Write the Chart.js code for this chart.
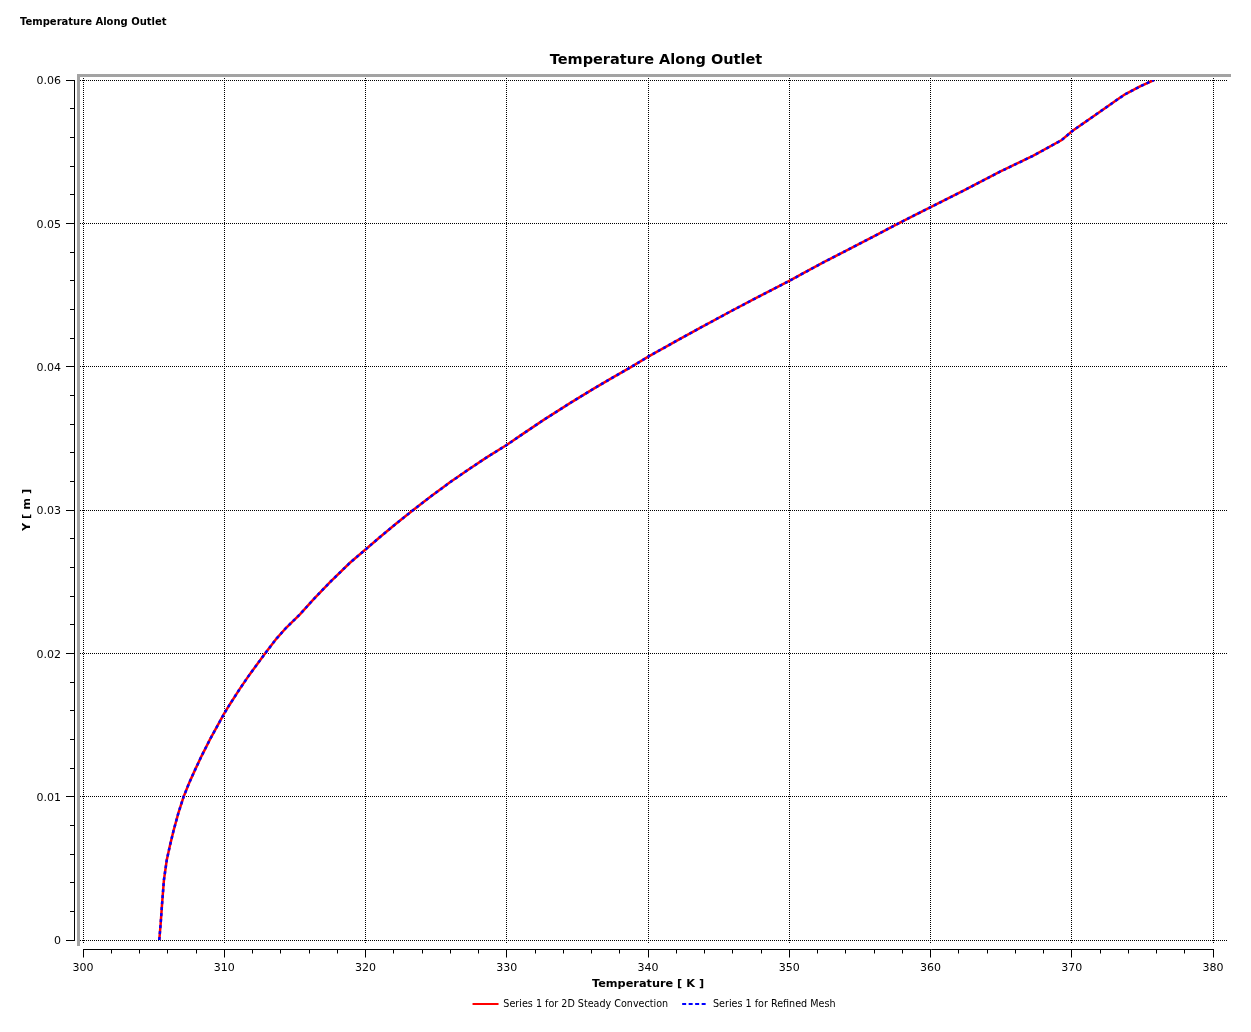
<!DOCTYPE html>
<html>
<head>
<meta charset="utf-8">
<script src="https://cdn.jsdelivr.net/npm/chart.js@4.4.0/dist/chart.umd.min.js"></script>
<style>
html,body{margin:0;padding:0;background:#fff;}
#wrap{position:relative;width:1251px;height:1032px;}
canvas{display:block;}
</style>
</head>
<body>
<div id="wrap"><canvas id="c" width="1251" height="1032"></canvas></div>
<script>
const pageTitle = 'Temperature Along Outlet';
const chartTitle = 'Temperature Along Outlet';
const xAxisTitle = 'Temperature [ K ]';
const yAxisTitle = 'Y [ m ]';
const seriesNames = ['Series 1 for 2D Steady Convection', 'Series 1 for Refined Mesh'];

const xTickValues = [300, 310, 320, 330, 340, 350, 360, 370, 380];
const yTickValues = [0, 0.01, 0.02, 0.03, 0.04, 0.05, 0.06];

// Series 1 for 2D Steady Convection
const temperature = [
  305.40, 305.50, 305.60, 305.73, 305.93, 306.16, 306.40, 306.75, 307.12, 307.50,
  307.90, 308.40, 308.99, 309.98, 310.40, 311.10, 311.80, 312.90, 313.70, 314.40,
  315.36, 316.30, 317.49, 318.90, 319.96, 321.03, 322.20, 323.38, 324.57, 325.98,
  327.40, 328.58, 329.99, 331.17, 332.59, 334.48, 336.13, 337.55, 338.73, 340.02,
  342.27, 343.92, 345.80, 347.46, 349.11, 350.00, 351.00, 352.41, 353.83, 355.95,
  357.60, 358.78, 360.08, 362.44, 363.15, 364.92, 367.28, 369.29, 370.04, 372.00,
  373.18, 373.77, 374.80, 375.82
];
const yPosition = [
  0.00000, 0.00116, 0.00256, 0.00419, 0.00558, 0.00661, 0.00759, 0.00885, 0.00999, 0.01092,
  0.01180, 0.01285, 0.01400, 0.01577, 0.01645, 0.01752, 0.01853, 0.02000, 0.02103, 0.02180,
  0.02272, 0.02375, 0.02497, 0.02632, 0.02721, 0.02812, 0.02907, 0.03000, 0.03091, 0.03193,
  0.03290, 0.03367, 0.03453, 0.03533, 0.03627, 0.03746, 0.03845, 0.03927, 0.03993, 0.04070,
  0.04194, 0.04283, 0.04383, 0.04469, 0.04553, 0.04598, 0.04652, 0.04727, 0.04799, 0.04907,
  0.04993, 0.05052, 0.05116, 0.05233, 0.05270, 0.05360, 0.05472, 0.05581, 0.05644, 0.05779,
  0.05860, 0.05900, 0.05953, 0.06000
];

// Series 1 for Refined Mesh (lies on top of the first series in the picture)
const temperatureRefined = [
  305.40, 305.50, 305.60, 305.73, 305.93, 306.16, 306.40, 306.75, 307.12, 307.50,
  307.90, 308.40, 308.99, 309.98, 310.40, 311.10, 311.80, 312.90, 313.70, 314.40,
  315.36, 316.30, 317.49, 318.90, 319.96, 321.03, 322.20, 323.38, 324.57, 325.98,
  327.40, 328.58, 329.99, 331.17, 332.59, 334.48, 336.13, 337.55, 338.73, 340.02,
  342.27, 343.92, 345.80, 347.46, 349.11, 350.00, 351.00, 352.41, 353.83, 355.95,
  357.60, 358.78, 360.08, 362.44, 363.15, 364.92, 367.28, 369.29, 370.04, 372.00,
  373.18, 373.77, 374.80, 375.82
];
const yRefined = [
  0.00000, 0.00116, 0.00256, 0.00419, 0.00558, 0.00661, 0.00759, 0.00885, 0.00999, 0.01092,
  0.01180, 0.01285, 0.01400, 0.01577, 0.01645, 0.01752, 0.01853, 0.02000, 0.02103, 0.02180,
  0.02272, 0.02375, 0.02497, 0.02632, 0.02721, 0.02812, 0.02907, 0.03000, 0.03091, 0.03193,
  0.03290, 0.03367, 0.03453, 0.03533, 0.03627, 0.03746, 0.03845, 0.03927, 0.03993, 0.04070,
  0.04194, 0.04283, 0.04383, 0.04469, 0.04553, 0.04598, 0.04652, 0.04727, 0.04799, 0.04907,
  0.04993, 0.05052, 0.05116, 0.05233, 0.05270, 0.05360, 0.05472, 0.05581, 0.05644, 0.05779,
  0.05860, 0.05900, 0.05953, 0.06000
];

const FONT = "'DejaVu Sans', Verdana, sans-serif";

const toPoints = (xs, ys) => xs.map((v, i) => ({ x: v, y: ys[i] }));

// small horizontal nudges so the centred title and legend sit where the original puts them
const nudgePlugin = {
  id: 'nudgePlugin',
  afterLayout(chart) {
    chart.boxes.forEach(b => {
      if (b === chart.legend) { b.left += 6; b.right += 6; }
      else if (b !== chart.titleBlock && b.options && b.options.text === chartTitle) { b.left += 8; b.right += 8; }
    });
  }
};

const framePlugin = {
  id: 'framePlugin',
  beforeDatasetsDraw(chart) {
    const { ctx, chartArea: a, scales: { x, y } } = chart;
    const L = Math.round(a.left), R = Math.round(a.right), T = Math.round(a.top), B = Math.round(a.bottom);
    ctx.save();
    // grey frame (top and left edges)
    ctx.fillStyle = '#a3a3a3';
    ctx.fillRect(L - 6, T - 6, (R + 18) - (L - 6), 3);
    ctx.fillRect(L - 6, T - 6, 3, (B + 6) - (T - 6));
    // dotted grid
    ctx.strokeStyle = '#000';
    ctx.lineWidth = 1;
    ctx.setLineDash([1, 1]);
    ctx.beginPath();
    xTickValues.forEach(v => {
      const px = Math.floor(x.getPixelForValue(v) + 0.001) + 0.5;
      ctx.moveTo(px, T - 2);
      ctx.lineTo(px, B + 4);
    });
    yTickValues.forEach(v => {
      const py = Math.floor(y.getPixelForValue(v) + 0.001) + 0.5;
      ctx.moveTo(L - 3, py);
      ctx.lineTo(R + 15, py);
    });
    ctx.stroke();
    ctx.setLineDash([]);
    // y axis line and ticks
    const ax = L - 9 + 0.5;
    ctx.beginPath();
    ctx.moveTo(ax, T);
    ctx.lineTo(ax, B + 1);
    const yStep = (yTickValues[1] - yTickValues[0]) / 5;
    const yCount = Math.round((yTickValues[yTickValues.length - 1] - yTickValues[0]) / yStep);
    for (let i = 0; i <= yCount; i++) {
      const v = yTickValues[0] + i * yStep;
      const py = Math.floor(y.getPixelForValue(v) + 0.001) + 0.5;
      const len = (i % 5 === 0) ? 8 : 4;
      ctx.moveTo(ax - len - 0.5, py);
      ctx.lineTo(ax + 0.5, py);
    }
    // x axis line and ticks
    const ay = B + 9 + 0.5;
    ctx.moveTo(L, ay);
    ctx.lineTo(R + 1, ay);
    const xStep = (xTickValues[1] - xTickValues[0]) / 5;
    const xCount = Math.round((xTickValues[xTickValues.length - 1] - xTickValues[0]) / xStep);
    for (let i = 0; i <= xCount; i++) {
      const v = xTickValues[0] + i * xStep;
      const px = Math.floor(x.getPixelForValue(v) + 0.001) + 0.5;
      const len = (i % 5 === 0) ? 8 : 4;
      ctx.moveTo(px, ay - 0.5);
      ctx.lineTo(px, ay + len);
    }
    ctx.stroke();
    ctx.restore();
  }
};

new Chart(document.getElementById('c'), {
  type: 'scatter',
  data: {
    datasets: [
      {
        label: seriesNames[0],
        data: toPoints(temperature, yPosition),
        showLine: true,
        borderColor: '#ff0000',
        backgroundColor: '#ff0000',
        borderWidth: 2.5,
        pointRadius: 0,
        pointHoverRadius: 0,
        tension: 0,
        fill: false,
        order: 2
      },
      {
        label: seriesNames[1],
        data: toPoints(temperatureRefined, yRefined),
        showLine: true,
        borderColor: '#0000ff',
        backgroundColor: '#0000ff',
        borderWidth: 2.5,
        borderDash: [3, 3],
        pointRadius: 0,
        pointHoverRadius: 0,
        tension: 0,
        fill: false,
        order: 1
      }
    ]
  },
  options: {
    responsive: false,
    animation: false,
    devicePixelRatio: 1,
    events: [],
    layout: { padding: { left: 20, right: 38, top: 0, bottom: 13.2 } },
    plugins: {
      title: {
        display: true,
        text: pageTitle,
        align: 'start',
        color: '#000',
        font: { family: FONT, size: 10, weight: 'bold' },
        padding: { top: 16, bottom: 0 }
      },
      subtitle: {
        display: true,
        text: chartTitle,
        align: 'center',
        fullSize: false,
        color: '#000',
        font: { family: FONT, size: 14.5, weight: 'bold' },
        padding: { top: 23.3, bottom: 11.3 }
      },
      legend: {
        display: true,
        position: 'bottom',
        fullSize: false,
        align: 'center',
        labels: {
          color: '#000',
          font: { family: FONT, size: 9.6 },
          usePointStyle: true,
          pointStyle: 'line',
          pointStyleWidth: 26,
          padding: 14,
          sort: (a, b) => a.datasetIndex - b.datasetIndex,
          generateLabels: chart => {
            const items = Chart.defaults.plugins.legend.labels.generateLabels(chart);
            items.forEach(it => {
              const ds = chart.data.datasets[it.datasetIndex];
              it.strokeStyle = ds.borderColor;
              it.fillStyle = ds.borderColor;
              it.lineWidth = 2;
              it.lineDash = ds.borderDash ? [4, 2.5] : [];
              it.lineDashOffset = 0;
              it.pointStyle = 'line';
            });
            return items;
          }
        }
      },
      tooltip: { enabled: false }
    },
    scales: {
      x: {
        type: 'linear',
        position: 'bottom',
        min: xTickValues[0],
        max: xTickValues[xTickValues.length - 1],
        grid: { display: false, drawTicks: false },
        border: { display: false },
        ticks: {
          stepSize: 10,
          padding: 21.4,
          color: '#000',
          font: { family: FONT, size: 11 },
          maxRotation: 0,
          callback: v => String(v)
        },
        title: {
          display: true,
          text: xAxisTitle,
          color: '#000',
          font: { family: FONT, size: 11.3, weight: 'bold' },
          padding: { top: 0, bottom: -5.6 }
        },
        afterFit: s => { s.height = 45.2; }
      },
      y: {
        type: 'linear',
        position: 'left',
        min: yTickValues[0],
        max: yTickValues[yTickValues.length - 1],
        grid: { display: false, drawTicks: false },
        border: { display: false },
        ticks: {
          stepSize: 0.01,
          padding: 22,
          labelOffset: 1.5,
          color: '#000',
          font: { family: FONT, size: 11 },
          callback: v => (Math.abs(v) < 1e-9 ? '0' : v.toFixed(2))
        },
        title: {
          display: true,
          text: yAxisTitle,
          color: '#000',
          font: { family: FONT, size: 11.3, weight: 'bold' },
          padding: { top: 0, bottom: 0 }
        },
        afterFit: s => { s.width = 63; }
      }
    }
  },
  plugins: [nudgePlugin, framePlugin]
});
</script>
</body>
</html>
